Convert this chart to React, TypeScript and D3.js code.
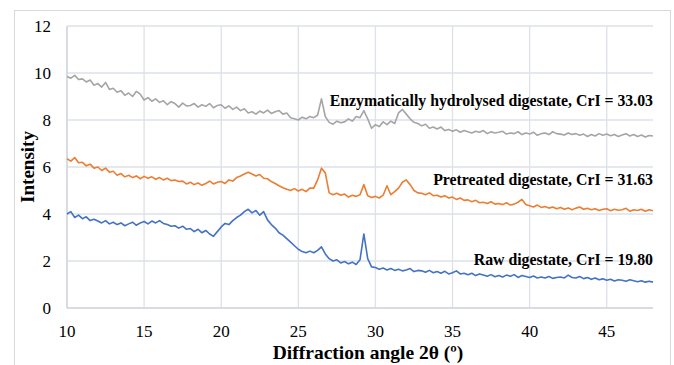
import React from 'react';
import * as d3 from 'd3';

// XRD patterns, sampled every 0.25° from 10° to 48°
const angleStart = 10;
const angleEnd = 48;
const angleStep = 0.25;

const enzymatic = [
  9.85, 9.78, 9.90, 9.72, 9.75, 9.62, 9.70, 9.48, 9.55, 9.40, 9.60, 9.30,
  9.35, 9.18, 9.25, 9.05, 9.15, 9.00, 9.22, 9.10, 8.85, 8.95, 8.80, 8.90,
  8.75, 8.82, 8.65, 8.78, 8.70, 8.55, 8.72, 8.60, 8.62, 8.70, 8.55, 8.65,
  8.58, 8.70, 8.52, 8.62, 8.65, 8.50, 8.60, 8.45, 8.55, 8.40, 8.48, 8.30,
  8.35, 8.25, 8.38, 8.30, 8.42, 8.28, 8.35, 8.40, 8.25, 8.30, 8.10, 8.05,
  8.00, 8.12, 8.05, 8.15, 8.10, 8.20, 8.90, 8.15, 7.90, 7.82, 7.95, 7.88,
  7.92, 8.05, 7.95, 8.15, 8.10, 8.40, 8.05, 7.65, 7.80, 7.72, 7.92, 7.80,
  7.95, 7.85, 8.30, 8.45, 8.25, 8.05, 7.90, 7.85, 7.75, 7.82, 7.65, 7.70,
  7.62, 7.70, 7.55, 7.60, 7.52, 7.58, 7.48, 7.55, 7.50, 7.45, 7.52, 7.48,
  7.55, 7.42, 7.50, 7.45, 7.48, 7.52, 7.40, 7.45, 7.42, 7.50, 7.38, 7.45,
  7.40, 7.48, 7.35, 7.42, 7.45, 7.38, 7.50, 7.42, 7.40, 7.36, 7.45, 7.38,
  7.42, 7.35, 7.40, 7.30, 7.38, 7.32, 7.42, 7.35, 7.40, 7.33, 7.38, 7.30,
  7.36, 7.42, 7.32, 7.38, 7.30, 7.36, 7.28, 7.34, 7.32,
];

const pretreated = [
  6.35, 6.25, 6.40, 6.18, 6.20, 6.05, 6.12, 5.95, 6.00, 5.85, 5.95, 5.78,
  5.82, 5.65, 5.72, 5.58, 5.65, 5.55, 5.62, 5.50, 5.60, 5.52, 5.58, 5.48,
  5.55, 5.45, 5.52, 5.42, 5.45, 5.38, 5.40, 5.28, 5.35, 5.25, 5.32, 5.22,
  5.30, 5.40, 5.28, 5.35, 5.38, 5.30, 5.45, 5.40, 5.55, 5.62, 5.70, 5.78,
  5.70, 5.62, 5.68, 5.52, 5.50, 5.38, 5.30, 5.20, 5.12, 5.05, 5.00, 5.08,
  4.98, 5.05, 4.95, 5.10, 5.10, 5.45, 5.95, 5.75, 4.90, 4.82, 4.88, 4.80,
  4.85, 4.72, 4.80, 4.75, 4.82, 5.25, 4.78, 4.70, 4.75, 4.68, 4.80, 5.20,
  4.82, 4.95, 5.10, 5.35, 5.45, 5.25, 5.00, 4.90, 4.88, 4.82, 4.90, 4.78,
  4.80, 4.72, 4.78, 4.68, 4.72, 4.62, 4.68, 4.58, 4.60, 4.52, 4.58, 4.48,
  4.50, 4.45, 4.52, 4.42, 4.45, 4.40, 4.48, 4.38, 4.42, 4.50, 4.62, 4.40,
  4.35, 4.30, 4.38, 4.28, 4.32, 4.25, 4.30, 4.22, 4.28, 4.20, 4.26, 4.18,
  4.25, 4.30, 4.20, 4.24, 4.18, 4.22, 4.15, 4.20, 4.22, 4.14, 4.20, 4.16,
  4.18, 4.24, 4.12, 4.18, 4.15, 4.20, 4.12, 4.18, 4.14,
];

const raw = [
  4.00, 4.10, 3.85, 3.95, 3.80, 3.88, 3.72, 3.78, 3.70, 3.62, 3.72, 3.58,
  3.65, 3.55, 3.62, 3.50, 3.58, 3.65, 3.52, 3.62, 3.68, 3.58, 3.70, 3.62,
  3.72, 3.60, 3.55, 3.48, 3.50, 3.40, 3.48, 3.35, 3.38, 3.25, 3.35, 3.20,
  3.30, 3.15, 3.05, 3.25, 3.45, 3.60, 3.55, 3.72, 3.85, 3.95, 4.10, 4.20,
  4.05, 4.15, 3.95, 4.10, 3.75, 3.55, 3.40, 3.20, 3.10, 2.95, 2.80, 2.65,
  2.50, 2.40, 2.35, 2.42, 2.35, 2.45, 2.60, 2.30, 2.10, 2.00, 2.05, 1.92,
  1.98, 1.88, 1.95, 1.85, 2.05, 3.15, 2.10, 1.75, 1.72, 1.65, 1.70, 1.62,
  1.68, 1.60, 1.65, 1.58, 1.62, 1.68, 1.55, 1.60, 1.58, 1.52, 1.60, 1.50,
  1.55, 1.48, 1.56, 1.45, 1.50, 1.58, 1.45, 1.48, 1.42, 1.48, 1.38, 1.45,
  1.40, 1.35, 1.42, 1.33, 1.38, 1.32, 1.40, 1.35, 1.42, 1.30, 1.38, 1.34,
  1.30, 1.36, 1.28, 1.32, 1.28, 1.34, 1.26, 1.30, 1.32, 1.28, 1.40, 1.30,
  1.28, 1.34, 1.25, 1.30, 1.22, 1.28, 1.20, 1.24, 1.18, 1.22, 1.15, 1.20,
  1.18, 1.14, 1.20, 1.16, 1.12, 1.16, 1.10, 1.14, 1.10,
];

const xTicks = [10, 15, 20, 25, 30, 35, 40, 45];
const yTicks = [0, 2, 4, 6, 8, 10, 12];

const seriesNames = [
  'Enzymatically hydrolysed digestate, CrI = 33.03',
  'Pretreated digestate, CrI = 31.63',
  'Raw digestate, CrI = 19.80',
];
const seriesData = [enzymatic, pretreated, raw];
const seriesColors = ['#A5A5A5', '#ED7D31', '#4472C4'];
const labelLevels = [8.6, 5.23, 1.82]; // intensity where each label sits

const width = 674;
const height = 365;
const margin = { top: 26, right: 21, bottom: 57, left: 67 };
const font = '"Liberation Serif", "Times New Roman", serif';

export default function App() {
  const angles = d3.range(angleStart, angleEnd + angleStep / 2, angleStep);

  const x = d3.scaleLinear()
    .domain([angleStart, angleEnd])
    .range([margin.left, width - margin.right]);
  const y = d3.scaleLinear()
    .domain([0, 12])
    .range([height - margin.bottom, margin.top]);

  const line = d3.line<number>()
    .x((_, i) => x(angles[i]))
    .y(d => y(d));

  return (
    <svg
      width={width}
      height={height}
      style={{ position: 'absolute', left: 0, top: 0, background: '#fff' }}
    >
      <rect x={14.5} y={10.5} width={656} height={370} fill="#fff" stroke="#D9D9D9" />

      {/* grid */}
      {yTicks.map(t => (
        <line key={'gy' + t} x1={x(angleStart)} x2={x(angleEnd)} y1={y(t)} y2={y(t)}
          stroke="#DDE1E8" strokeWidth={1.3} />
      ))}
      {xTicks.map(t => (
        <line key={'gx' + t} x1={x(t)} x2={x(t)} y1={y(0)} y2={y(12)}
          stroke="#DDE1E8" strokeWidth={1.3} />
      ))}
      <line x1={x(angleStart)} x2={x(angleStart)} y1={y(0)} y2={y(12)} stroke="#D3D7DF" strokeWidth={1.5} />
      <line x1={x(angleStart)} x2={x(angleEnd)} y1={y(0)} y2={y(0)} stroke="#D3D7DF" strokeWidth={1.5} />

      {/* series */}
      {seriesData.map((s, i) => (
        <path key={i} d={line(s) ?? ''} fill="none" stroke={seriesColors[i]}
          strokeWidth={1.6} strokeLinejoin="round" />
      ))}

      {/* labels */}
      {seriesNames.map((n, i) => (
        <text key={n} x={x(angleEnd)} y={y(labelLevels[i])} textAnchor="end"
          fontFamily={font} fontWeight="bold" fontSize={15.8} fill="#000">{n}</text>
      ))}

      {/* ticks */}
      {yTicks.map(t => (
        <text key={'ty' + t} x={51} y={y(t)} dy="0.34em" textAnchor="end"
          fontFamily={font} fontSize={17} fill="#000">{t}</text>
      ))}
      {xTicks.map(t => (
        <text key={'tx' + t} x={x(t)} y={337} textAnchor="middle"
          fontFamily={font} fontSize={17} fill="#000">{t}</text>
      ))}

      <text x={368} y={359} textAnchor="middle" fontFamily={font} fontWeight="bold" fontSize={19.5}>
        Diffraction angle 2θ (º)
      </text>
      <text transform={`translate(34, ${(y(0) + y(12)) / 2}) rotate(-90)`} textAnchor="middle"
        fontFamily={font} fontWeight="bold" fontSize={19}>
        Intensity
      </text>
    </svg>
  );
}
